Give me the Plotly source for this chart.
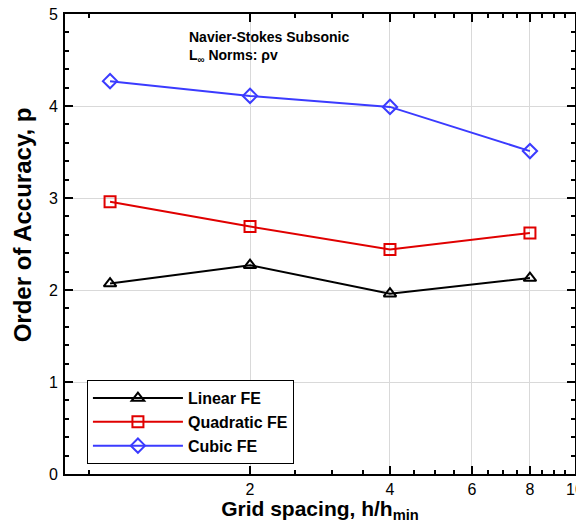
import plotly.graph_objects as go

grid_spacing = [1, 2, 4, 8]
linear_fe = [2.07, 2.27, 1.96, 2.13]
quadratic_fe = [2.96, 2.69, 2.44, 2.62]
cubic_fe = [4.27, 4.11, 3.99, 3.51]
x_tick_vals = [2, 4, 6, 8, 10]
x_minor_vals = [0.9, 2.5, 3, 3.5, 4.5, 5, 5.5, 6.5, 7, 7.5, 8.5, 9, 9.5]
y_tick_vals = [0, 1, 2, 3, 4, 5]

fig = go.Figure()
series = [
    ("Linear FE", linear_fe, "black", "triangle-up-open"),
    ("Quadratic FE", quadratic_fe, "#e00000", "square-open"),
    ("Cubic FE", cubic_fe, "#3b3bff", "diamond-open"),
]
for name, vals, col, sym in series:
    fig.add_trace(go.Scatter(
        x=grid_spacing, y=vals, name=name, mode="lines+markers",
        line=dict(color=col, width=2),
        marker=dict(symbol=sym, size=11, color=col, line=dict(color=col, width=2)),
    ))

font = "Liberation Sans, Arial, sans-serif"
fig.update_layout(
    width=584, height=515,
    margin=dict(l=57, r=17, t=6, b=49),
    plot_bgcolor="white", paper_bgcolor="white",
    font=dict(family=font, color="black", size=16),
    showlegend=True,
    legend=dict(
        x=0.043, y=0.204, xanchor="left", yanchor="top",
        bordercolor="black", borderwidth=1, bgcolor="white",
        font=dict(size=16, family=font, weight="bold"),
        tracegroupgap=0, itemwidth=90,
    ),
    xaxis=dict(
        type="log", range=[-0.09691, 1.0],
        tickmode="array", tickvals=x_tick_vals, ticktext=[str(v) for v in x_tick_vals],
        ticks="inside", ticklen=8, tickwidth=1.5, tickcolor="black",
        showline=True, linecolor="black", linewidth=2, mirror="allticks",
        showgrid=True, gridcolor="#d9d9d9", gridwidth=1,
        minor=dict(tickvals=x_minor_vals, ticks="inside", ticklen=4, tickcolor="black", showgrid=False),
        zeroline=False, automargin=False, ticklabeloverflow="allow",
        title=dict(text="<b>Grid spacing, h/h<sub>min</sub></b>", font=dict(size=21), standoff=2),
    ),
    yaxis=dict(
        range=[0, 5],
        tickmode="array", tickvals=y_tick_vals,
        ticks="inside", ticklen=8, tickwidth=1.5, tickcolor="black",
        showline=True, linecolor="black", linewidth=2, mirror="allticks",
        showgrid=True, gridcolor="#d9d9d9", gridwidth=1,
        minor=dict(dtick=0.2, ticks="inside", ticklen=4, tickcolor="black", showgrid=False),
        zeroline=False, automargin=False, ticklabelstandoff=2, ticklabeloverflow="allow",
    ),
)
fig.add_annotation(
    xref="paper", yref="paper", x=-0.084, y=0.541, xanchor="center", yanchor="middle",
    textangle=-90, showarrow=False,
    text="<b>Order of Accuracy, p</b>",
    font=dict(size=24, family=font),
)
fig.add_annotation(
    xref="paper", yref="paper", x=0.239, y=0.9717, xanchor="left", yanchor="top",
    align="left", showarrow=False,
    text="<b>Navier-Stokes Subsonic<br>L<sub>∞</sub> Norms: ρv</b>",
    font=dict(size=14, family=font),
)
fig.write_html("out.html")
